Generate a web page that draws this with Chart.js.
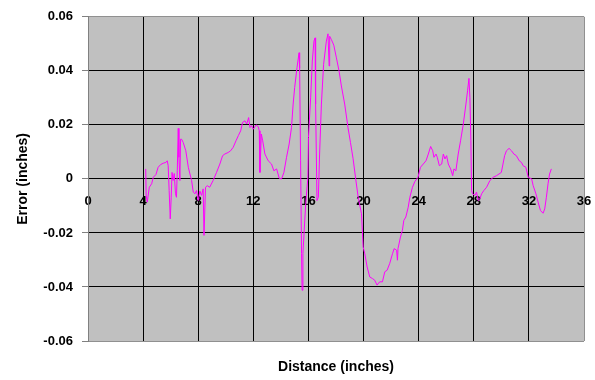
<!DOCTYPE html>
<html>
<head>
<meta charset="utf-8">
<script src="https://cdn.jsdelivr.net/npm/chart.js@4.4.0/dist/chart.umd.min.js"></script>
<style>
  html, body { margin: 0; padding: 0; background: #fff; }
  #wrap { width: 595px; height: 380px; }
</style>
</head>
<body>
<div id="wrap"><canvas id="errChart" width="595" height="380"></canvas></div>
<script>
const distance = [4.19,4.22,4.3,4.45,4.62,4.74,4.93,5.09,5.27,5.46,5.65,5.75,5.82,5.89,5.97,6.04,6.1,6.18,6.26,6.35,6.42,6.48,6.55,6.6,6.67,6.72,6.79,6.91,7.1,7.28,7.52,7.64,7.76,7.88,8.0,8.12,8.24,8.36,8.42,8.53,8.66,8.83,9.08,9.33,9.57,9.77,9.93,10.18,10.35,10.54,10.74,10.91,11.08,11.22,11.39,11.52,11.66,11.76,11.88,12.0,12.2,12.36,12.43,12.48,12.58,12.68,12.84,13.08,13.32,13.49,13.69,13.88,14.05,14.22,14.41,14.6,14.77,14.89,15.0,15.17,15.32,15.36,15.43,15.5,15.54,15.6,15.8,15.96,16.0,16.16,16.28,16.4,16.48,16.52,16.62,16.72,16.81,16.94,17.1,17.3,17.42,17.5,17.54,17.67,17.84,18.03,18.22,18.39,18.63,18.87,19.05,19.24,19.43,19.61,19.85,19.97,20.09,20.26,20.45,20.65,20.81,20.98,21.17,21.37,21.54,21.71,21.9,22.1,22.22,22.4,22.46,22.5,22.68,22.82,22.92,23.07,23.24,23.36,23.55,23.72,23.95,24.13,24.33,24.53,24.7,24.87,25.02,25.11,25.26,25.35,25.5,25.67,25.79,25.91,26.03,26.15,26.32,26.47,26.56,26.7,26.87,27.04,27.24,27.43,27.55,27.65,27.72,27.79,27.84,27.91,28.08,28.2,28.32,28.44,28.57,28.73,28.93,29.17,29.41,29.65,30.0,30.12,30.24,30.37,30.56,30.74,30.91,31.09,31.3,31.46,31.58,31.78,31.95,32.2,32.31,32.51,32.67,32.84,33.03,33.15,33.27,33.39,33.5,33.63];
const error = [0.0037,-0.006,-0.0086,-0.0031,-0.0018,0.0006,0.0016,0.0043,0.0053,0.0058,0.0061,0.0067,0.0049,-0.0043,-0.0148,-0.0068,0.0024,-0.0006,0.002,-0.0055,-0.0068,0.003,0.0187,0.008,-0.0006,0.0147,0.0147,0.0135,0.0104,0.0043,-0.0006,-0.0049,-0.0055,-0.0043,-0.008,-0.0045,-0.0061,-0.0037,-0.0209,-0.0031,-0.0025,-0.0031,-0.0006,0.0024,0.0055,0.0086,0.0092,0.0098,0.0104,0.0117,0.0141,0.016,0.0178,0.0209,0.0215,0.0203,0.0227,0.019,0.0197,0.0184,0.02,0.0193,0.0178,0.0024,0.0166,0.0141,0.0092,0.0067,0.0055,0.003,0.0037,0.0002,0.0,0.0024,0.008,0.0129,0.019,0.0277,0.0338,0.0412,0.0467,0.041,0.0067,-0.0276,-0.0412,-0.0276,-0.0092,0.0006,0.0153,0.03,0.0436,0.051,0.0522,0.0277,-0.008,-0.0068,0.0092,0.0277,0.0424,0.051,0.0537,0.0418,0.0528,0.0515,0.0495,0.0448,0.04,0.0344,0.0277,0.019,0.0135,0.0075,0.0,-0.0068,-0.0129,-0.0252,-0.0277,-0.0326,-0.0363,-0.0369,-0.0375,-0.0393,-0.0381,-0.0381,-0.0344,-0.0338,-0.0313,-0.0277,-0.0258,-0.0264,-0.0301,-0.0258,-0.0215,-0.019,-0.0154,-0.0141,-0.0105,-0.0068,-0.0031,-0.001,0.0006,0.0043,0.0055,0.0067,0.0092,0.012,0.0104,0.008,0.0092,0.008,0.0049,0.0055,0.0092,0.0074,0.0086,0.0055,0.0037,0.0012,0.0037,0.003,0.0092,0.0141,0.0203,0.0277,0.0326,0.0372,0.0301,0.0141,-0.0043,-0.0055,-0.0061,-0.0049,-0.008,-0.0074,-0.0055,-0.0043,-0.0031,-0.0006,0.0006,0.0012,0.0024,0.0055,0.0086,0.0104,0.0113,0.0104,0.0092,0.0086,0.0067,0.0061,0.0049,0.0043,0.0006,0.0,-0.0025,-0.0055,-0.0086,-0.0117,-0.0127,-0.0111,-0.0068,-0.0018,0.0018,0.0037];

const xTicks = [0, 4, 8, 12, 16, 20, 24, 28, 32, 36];
const yTicks = [-0.06, -0.04, -0.02, 0, 0.02, 0.04, 0.06];
const yTickLabels = ['-0.06', '-0.04', '-0.02', '0', '0.02', '0.04', '0.06'];

const points = distance.map((d, i) => ({x: d, y: error[i]}));

const FONT = "'Liberation Sans', Arial, sans-serif";

// grey plot background
const plotBg = {
    id: 'plotBg',
    beforeDraw(chart) {
        const {ctx, chartArea: a} = chart;
        ctx.save();
        ctx.fillStyle = '#c0c0c0';
        ctx.fillRect(a.left, a.top, a.right - a.left, a.bottom - a.top);
        ctx.restore();
    }
};

// keep tick labels from pushing the plot area in
function noSidePad(s) {
    s.paddingLeft = 0;
    s.paddingRight = 0;
}

const ctx = document.getElementById('errChart').getContext('2d');

let errChart = new Chart(ctx, {
    type: 'line',
    data: {
        datasets: [{
            data: points,
            borderColor: '#ff00ff',
            borderWidth: 1,
            pointRadius: 0,
            tension: 0,
            fill: false
        }]
    },
    options: {
        responsive: false,
        animation: false,
        layout: {padding: {top: 15, right: 11, left: 0, bottom: 0}},
        plugins: {legend: {display: false}, tooltip: {enabled: false}},
        scales: {
            x: {
                type: 'linear',
                position: {y: 0},
                min: xTicks[0],
                max: xTicks[xTicks.length - 1],
                afterBuildTicks: (s) => { s.ticks = xTicks.map(v => ({value: v})); },
                afterFit: noSidePad,
                grid: {
                    color: (c) => (c.index === 0 || c.index === xTicks.length - 1) ? '#909090' : '#000',
                    lineWidth: 1,
                    drawTicks: false
                },
                border: {display: false},
                ticks: {
                    padding: 15,
                    maxRotation: 0,
                    color: '#000',
                    font: {family: FONT, size: 13, weight: 'bold'}
                }
            },
            x2: {
                type: 'linear',
                position: 'bottom',
                grid: {display: false},
                border: {display: false},
                ticks: {display: false},
                afterFit: (s) => { s.height = 39; noSidePad(s); },
                title: {
                    display: true,
                    text: 'Distance (inches)',
                    color: '#000',
                    padding: {top: 0, bottom: 4},
                    font: {family: FONT, size: 14, weight: 'bold'}
                }
            },
            y: {
                type: 'linear',
                min: yTicks[0],
                max: yTicks[yTicks.length - 1],
                afterBuildTicks: (s) => { s.ticks = yTicks.map(v => ({value: v})); },
                afterFit: (s) => { s.width = 88; },
                grid: {
                    color: (c) => (c.index === 0 || c.index === yTicks.length - 1) ? '#909090' : '#000',
                    tickColor: '#808080',
                    tickLength: 6,
                    lineWidth: 1
                },
                border: {display: true, color: '#808080'},
                ticks: {
                    padding: 9,
                    color: '#000',
                    font: {family: FONT, size: 13, weight: 'bold'},
                    callback: (v, i) => yTickLabels[i]
                },
                title: {
                    display: true,
                    text: 'Error (inches)',
                    color: '#000',
                    padding: {top: 15, bottom: 0},
                    font: {family: FONT, size: 14, weight: 'bold'}
                }
            }
        }
    },
    plugins: [plotBg]
});
</script>
</body>
</html>
